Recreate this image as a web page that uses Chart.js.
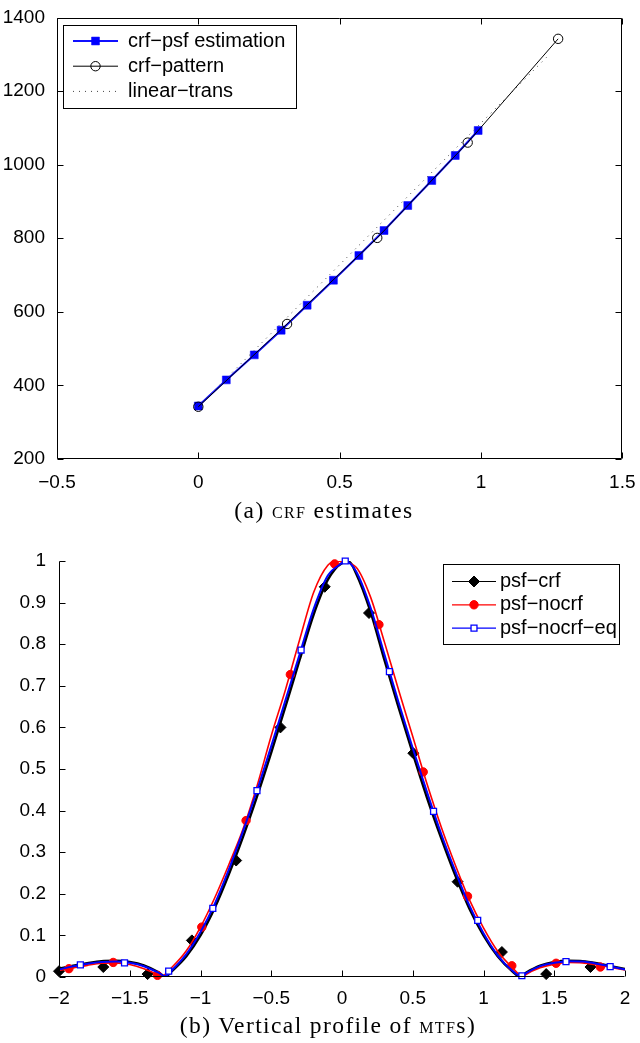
<!DOCTYPE html>
<html>
<head>
<meta charset="utf-8">
<script src="https://cdn.jsdelivr.net/npm/chart.js@4.4.0/dist/chart.umd.min.js"></script>
<style>
  body { margin: 0; background: #fff; width: 640px; height: 1043px; position: relative; overflow: hidden; }
  canvas { position: absolute; left: 0; }
  #crfChart { top: 0; }
  #mtfChart { top: 530px; }
  .cap { position: absolute; left: 0; width: 640px; text-align: center; color: #000;
         font-family: "Liberation Serif", "DejaVu Serif", serif; font-size: 23.5px; letter-spacing: 1.4px; white-space: nowrap; }
  .sc { font-variant: small-caps; }
</style>
</head>
<body>
<canvas id="crfChart" width="640" height="520"></canvas>
<div class="cap" style="top:497px; padding-left:4px">(a) <span class="sc">crf</span> estimates</div>
<canvas id="mtfChart" width="640" height="480"></canvas>
<div class="cap" style="top:1012px; padding-left:8px">(b) Vertical profile of <span class="sc">mtf</span>s)</div>

<script>
// (a) CRF estimates
const crfXTicks = [-0.5, 0, 0.5, 1, 1.5];
const crfYTicks = [200, 400, 600, 800, 1000, 1200, 1400];
const psfEstX = [0, 0.099, 0.198, 0.293, 0.385, 0.478, 0.568, 0.657, 0.741, 0.826, 0.909, 0.99];
const psfEstY = [344, 415, 483, 550, 618, 686, 753, 821, 889, 957, 1025, 1093];
const patternX = [0, 0.314, 0.633, 0.953, 1.273];
const patternY = [342, 567, 801, 1060, 1342];
const linearX = [0, 1.24];
const linearY = [343, 1298];

// (b) vertical profile of MTFs
const mtfXTicks = [-2, -1.5, -1, -0.5, 0, 0.5, 1, 1.5, 2];
const mtfYTicks = [0, 0.1, 0.2, 0.3, 0.4, 0.5, 0.6, 0.7, 0.8, 0.9, 1];

// curves
const crfLineX = [-2, -1.9, -1.8, -1.7, -1.6, -1.5, -1.4, -1.3, -1.25, -1.2, -1.1, -1, -0.9, -0.8, -0.7, -0.6, -0.5, -0.4, -0.3, -0.2, -0.1, 0, 0.05, 0.1, 0.2, 0.3, 0.4, 0.5, 0.6, 0.7, 0.8, 0.9, 1, 1.1, 1.2, 1.26, 1.3, 1.4, 1.5, 1.6, 1.7, 1.8, 1.9, 2];
const crfLineY = [0.02, 0.027, 0.033, 0.038, 0.039, 0.036, 0.028, 0.012, 0.001, 0.015, 0.05, 0.1, 0.166, 0.247, 0.337, 0.435, 0.54, 0.65, 0.762, 0.872, 0.955, 0.995, 0.998, 0.97, 0.88, 0.762, 0.648, 0.538, 0.432, 0.335, 0.245, 0.165, 0.1, 0.05, 0.015, 0.001, 0.01, 0.027, 0.036, 0.039, 0.038, 0.033, 0.026, 0.019];
const nocrfLineX = [-2, -1.9, -1.8, -1.7, -1.6, -1.5, -1.4, -1.3, -1.28, -1.2, -1.1, -1, -0.9, -0.8, -0.7, -0.6, -0.5, -0.4, -0.3, -0.2, -0.1, -0.03, 0, 0.1, 0.2, 0.3, 0.4, 0.5, 0.6, 0.7, 0.8, 0.9, 1, 1.1, 1.2, 1.28, 1.3, 1.4, 1.5, 1.6, 1.7, 1.8, 1.9, 2];
const nocrfLineY = [0.016, 0.022, 0.028, 0.033, 0.034, 0.03, 0.02, 0.005, 0.001, 0.024, 0.063, 0.12, 0.19, 0.27, 0.355, 0.46, 0.58, 0.69, 0.81, 0.925, 0.99, 1.0, 0.998, 0.985, 0.915, 0.805, 0.69, 0.578, 0.465, 0.362, 0.27, 0.186, 0.118, 0.062, 0.024, 0.001, 0.006, 0.022, 0.031, 0.035, 0.034, 0.029, 0.023, 0.017];
const eqLineX = [-2, -1.9, -1.8, -1.7, -1.6, -1.5, -1.4, -1.3, -1.25, -1.2, -1.1, -1, -0.9, -0.8, -0.7, -0.6, -0.5, -0.4, -0.3, -0.2, -0.1, 0, 0.02, 0.1, 0.2, 0.3, 0.4, 0.5, 0.6, 0.7, 0.8, 0.9, 1, 1.1, 1.2, 1.27, 1.3, 1.4, 1.5, 1.6, 1.7, 1.8, 1.9, 2];
const eqLineY = [0.018, 0.026, 0.032, 0.036, 0.037, 0.034, 0.026, 0.011, 0.002, 0.017, 0.055, 0.108, 0.175, 0.258, 0.35, 0.449, 0.555, 0.665, 0.775, 0.885, 0.965, 0.995, 1.0, 0.975, 0.89, 0.775, 0.66, 0.55, 0.445, 0.345, 0.255, 0.172, 0.105, 0.052, 0.016, 0.001, 0.009, 0.026, 0.034, 0.038, 0.037, 0.032, 0.025, 0.018];

// markers
const crfMarkX = [-2, -1.687, -1.374, -1.061, -0.748, -0.435, -0.122, 0.191, 0.504, 0.817, 1.13, 1.443, 1.756];
const crfMarkY = [0.014, 0.024, 0.007, 0.088, 0.28, 0.6, 0.938, 0.875, 0.538, 0.229, 0.06, 0.007, 0.024];
const nocrfMarkX = [-1.93, -1.617, -1.304, -0.991, -0.678, -0.365, -0.052, 0.261, 0.574, 0.887, 1.2, 1.513, 1.826];
const nocrfMarkY = [0.02, 0.035, 0.004, 0.12, 0.376, 0.727, 0.993, 0.847, 0.493, 0.194, 0.027, 0.033, 0.024];
const eqMarkX = [-1.849, -1.537, -1.225, -0.913, -0.601, -0.289, 0.023, 0.335, 0.647, 0.959, 1.271, 1.583, 1.895];
const eqMarkY = [0.029, 0.034, 0.014, 0.165, 0.448, 0.786, 1.0, 0.734, 0.398, 0.136, 0.003, 0.037, 0.025];

const pts = (xs, ys) => xs.map((x, i) => ({x: x, y: ys[i]}));
const fmt = v => String(v).replace('-', '\u2212');
const tickFont = {family: '"Liberation Sans", Arial, sans-serif', size: 19};

function drawMarker(ctx, style, r, x, y) {
    ctx.beginPath();
    if (style === 'rect') {
        const s = r * Math.SQRT1_2;
        ctx.rect(x - s, y - s, 2 * s, 2 * s);
    } else if (style === 'rectRot') {
        ctx.moveTo(x - r, y); ctx.lineTo(x, y - r); ctx.lineTo(x + r, y); ctx.lineTo(x, y + r);
        ctx.closePath();
    } else {
        ctx.arc(x, y, r, 0, Math.PI * 2);
    }
}

// matlab style axes: inward ticks, optional full box
const axesFrame = {
    id: 'axesFrame',
    afterDatasetsDraw(chart, args, o) {
        const ctx = chart.ctx, a = chart.chartArea;
        const xs = chart.scales.x, ys = chart.scales.y;
        const L = Math.round(a.left) + 0.5, R = Math.round(a.right) - 0.5;
        const T = Math.round(a.top) + 0.5, B = Math.round(a.bottom) - 0.5;
        const len = 6;
        ctx.save();
        ctx.strokeStyle = '#000';
        ctx.lineWidth = 1;
        ctx.beginPath();
        xs.ticks.forEach(t => {
            const px = Math.round(xs.getPixelForValue(t.value)) + 0.5;
            ctx.moveTo(px, B); ctx.lineTo(px, B - len);
            if (o.box) { ctx.moveTo(px, T); ctx.lineTo(px, T + len); }
        });
        ys.ticks.forEach(t => {
            const py = Math.round(ys.getPixelForValue(t.value)) + 0.5;
            ctx.moveTo(L, py); ctx.lineTo(L + len, py);
            if (o.box) { ctx.moveTo(R, py); ctx.lineTo(R - len, py); }
        });
        ctx.moveTo(L, T); ctx.lineTo(L, B); ctx.lineTo(R, B);
        if (o.box) { ctx.lineTo(R, T); ctx.lineTo(L, T); }
        ctx.stroke();
        ctx.restore();
    }
};

const boxLegend = {
    id: 'boxLegend',
    afterDraw(chart, args, o) {
        const ctx = chart.ctx, ds = chart.data.datasets;
        ctx.save();
        ctx.fillStyle = '#fff';
        ctx.fillRect(o.x, o.y, o.w, o.h);
        ctx.strokeStyle = '#000';
        ctx.lineWidth = 1;
        ctx.strokeRect(o.x + 0.5, o.y + 0.5, o.w, o.h);
        ctx.font = '20px "Liberation Sans", Arial, sans-serif';
        ctx.textBaseline = 'middle';
        o.items.forEach((it, i) => {
            const cy = o.y + o.row0 + i * o.step;
            const ln = ds[it.line];
            ctx.save();
            ctx.strokeStyle = ln.borderColor;
            ctx.lineWidth = o.lineWidth || ln.borderWidth;
            ctx.setLineDash(ln.borderDash || []);
            ctx.beginPath();
            ctx.moveTo(o.x + o.lineFrom, cy);
            ctx.lineTo(o.x + o.lineTo, cy);
            ctx.stroke();
            ctx.restore();
            if (it.marker !== null) {
                const m = ds[it.marker];
                ctx.fillStyle = m.pointBackgroundColor;
                ctx.strokeStyle = m.pointBorderColor;
                ctx.lineWidth = m.pointBorderWidth;
                drawMarker(ctx, m.pointStyle, m.pointRadius, o.x + (o.lineFrom + o.lineTo) / 2, cy);
                ctx.fill();
                ctx.stroke();
            }
            ctx.fillStyle = '#000';
            ctx.fillText(it.label, o.x + o.textX, cy);
        });
        ctx.restore();
    }
};

function axis(min, max, list, pad, fit) {
    return {
        type: 'linear', min: min, max: max,
        afterBuildTicks: s => { s.ticks = list.map(v => ({value: v})); },
        afterFit: fit,
        grid: {display: false},
        border: {display: false},
        ticks: {font: tickFont, color: '#000', padding: pad, maxRotation: 0, autoSkip: false, callback: v => fmt(v)}
    };
}

new Chart(document.getElementById('crfChart'), {
    type: 'scatter',
    data: {
        datasets: [
            {
                label: 'crf-pattern', data: pts(patternX, patternY), showLine: true,
                borderColor: '#000', borderWidth: 1,
                pointStyle: 'circle', pointRadius: 4.7, pointBackgroundColor: 'rgba(0,0,0,0)',
                pointBorderColor: '#000', pointBorderWidth: 1, order: 1
            },
            {
                label: 'linear-trans', data: pts(linearX, linearY), showLine: true,
                borderColor: '#444', borderWidth: 1, borderDash: [1, 5], pointRadius: 0, order: 2
            },
            {
                label: 'crf-psf estimation', data: pts(psfEstX, psfEstY), showLine: true,
                borderColor: '#1010ff', borderWidth: 2,
                pointStyle: 'rect', pointRadius: 5.6, pointBackgroundColor: '#0000ff',
                pointBorderColor: '#0000ff', pointBorderWidth: 0.5, order: 3
            }
        ]
    },
    options: {
        responsive: false,
        animation: false,
        layout: {padding: {left: 0, right: 13.5, top: 17.5, bottom: 0}},
        scales: {
            x: axis(-0.5, 1.5, crfXTicks, 4.5, s => { s.height = 61; }),
            y: axis(200, 1400, crfYTicks, 4, s => { s.width = 57; })
        },
        plugins: {
            legend: {display: false},
            tooltip: {enabled: false},
            axesFrame: {box: true},
            boxLegend: {
                x: 63, y: 25, w: 233, h: 83, row0: 16, step: 25.2, lineFrom: 10, lineTo: 55, textX: 65,
                items: [
                    {label: 'crf\u2212psf estimation', line: 2, marker: 2},
                    {label: 'crf\u2212pattern', line: 0, marker: 0},
                    {label: 'linear\u2212trans', line: 1, marker: null}
                ]
            }
        }
    },
    plugins: [axesFrame, boxLegend]
});

new Chart(document.getElementById('mtfChart'), {
    type: 'scatter',
    data: {
        datasets: [
            {
                label: 'psf-nocrf-eq', data: pts(eqLineX, eqLineY), showLine: true,
                borderColor: '#0000ff', borderWidth: 2, pointRadius: 0,
                cubicInterpolationMode: 'monotone', order: 1
            },
            {
                label: 'psf-nocrf-eq markers', data: pts(eqMarkX, eqMarkY), showLine: false,
                pointStyle: 'rect', pointRadius: 4.2, pointBackgroundColor: '#fff',
                pointBorderColor: '#0000ff', pointBorderWidth: 1.3, clip: false, order: 0
            },
            {
                label: 'psf-nocrf', data: pts(nocrfLineX, nocrfLineY), showLine: true,
                borderColor: '#ff0000', borderWidth: 1.6, pointRadius: 0,
                cubicInterpolationMode: 'monotone', order: 3
            },
            {
                label: 'psf-nocrf markers', data: pts(nocrfMarkX, nocrfMarkY), showLine: false,
                pointStyle: 'circle', pointRadius: 4.2, pointBackgroundColor: '#ff0000',
                pointBorderColor: '#ff0000', pointBorderWidth: 1, clip: false, order: 2
            },
            {
                label: 'psf-crf', data: pts(crfLineX, crfLineY), showLine: true,
                borderColor: '#000', borderWidth: 2.5, pointRadius: 0,
                cubicInterpolationMode: 'monotone', order: 5
            },
            {
                label: 'psf-crf markers', data: pts(crfMarkX, crfMarkY), showLine: false,
                pointStyle: 'rectRot', pointRadius: 5.5, pointBackgroundColor: '#000',
                pointBorderColor: '#000', pointBorderWidth: 1, clip: false, order: 4
            }
        ]
    },
    options: {
        responsive: false,
        animation: false,
        layout: {padding: {left: 0, right: 15, top: 31, bottom: 0}},
        scales: {
            x: axis(-2, 2, mtfXTicks, 2.5, s => { s.height = 33; }),
            y: axis(0, 1, mtfYTicks, 5, s => { s.width = 59; })
        },
        plugins: {
            legend: {display: false},
            tooltip: {enabled: false},
            axesFrame: {box: false},
            boxLegend: {
                x: 443, y: 34, w: 176, h: 80, row0: 17.5, step: 23.3, lineFrom: 9, lineTo: 53, textX: 57, lineWidth: 1.2,
                items: [
                    {label: 'psf\u2212crf', line: 4, marker: 5},
                    {label: 'psf\u2212nocrf', line: 2, marker: 3},
                    {label: 'psf\u2212nocrf\u2212eq', line: 0, marker: 1}
                ]
            }
        }
    },
    plugins: [axesFrame, boxLegend]
});
</script>
</body>
</html>
